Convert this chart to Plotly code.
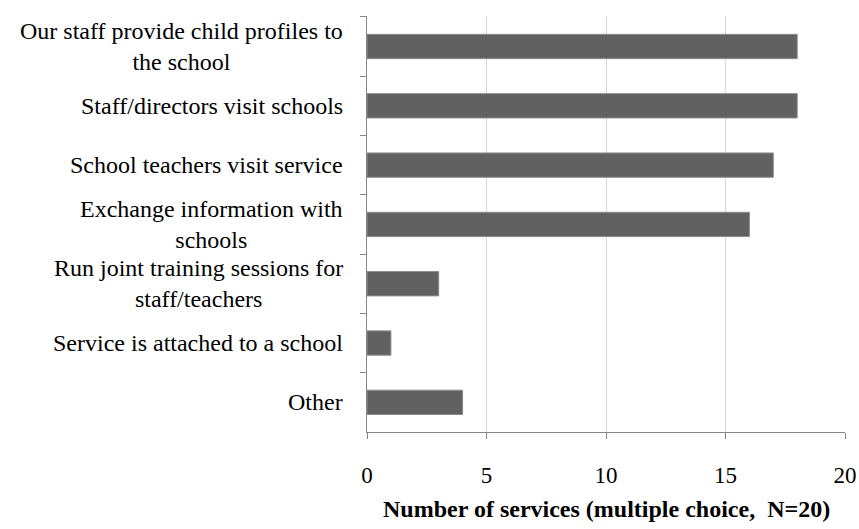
import plotly.graph_objects as go

categories = [
    "Our staff provide child profiles to<br>the school",
    "Staff/directors visit schools",
    "School teachers visit service",
    "Exchange information with<br>schools",
    "Run joint training sessions for<br>staff/teachers",
    "Service is attached to a school",
    "Other",
]
values = [18, 18, 17, 16, 3, 1, 4]
x_ticks = [0, 5, 10, 15, 20]
x_title = "Number of services (multiple choice,  N=20)"

FONT = "Liberation Serif"

fig = go.Figure(
    go.Bar(
        x=values,
        y=categories,
        orientation="h",
        width=0.41,
        marker=dict(color="#616161", line=dict(color="#8c8c8c", width=1)),
    )
)

annotations = [
    dict(
        x=0, xref="paper", y=c, yref="y", text=c,
        xanchor="right", yanchor="middle", align="center",
        xshift=-22, showarrow=False,
        font=dict(family=FONT, size=24, color="#000000"),
    )
    for c in categories
]
annotations.append(
    dict(
        x=0.5, xref="paper", y=-0.185, yref="paper", text="<b>" + x_title + "</b>",
        xanchor="center", yanchor="middle", showarrow=False,
        font=dict(family=FONT, size=24, color="#000000"),
    )
)

fig.update_layout(
    width=859, height=529,
    margin=dict(l=367, r=14, t=16, b=97),
    paper_bgcolor="white", plot_bgcolor="white",
    showlegend=False,
    font=dict(family=FONT, size=23, color="#000000"),
    annotations=annotations,
    xaxis=dict(
        range=[0, 20], tickvals=x_ticks, ticktext=[str(t) for t in x_ticks],
        showgrid=True, gridcolor="#d9d9d9", gridwidth=1,
        zeroline=False, showline=True, linecolor="#868686", linewidth=1,
        ticks="outside", ticklen=6, tickcolor="#868686",
        ticklabelstandoff=16, automargin=False,
        tickfont=dict(family=FONT, size=23, color="#000000"),
    ),
    yaxis=dict(
        type="category", categoryorder="array", categoryarray=categories,
        autorange="reversed", automargin=False,
        showticklabels=False, showgrid=False, zeroline=False,
        showline=True, linecolor="#868686", linewidth=1,
        ticks="outside", tickson="boundaries", ticklen=6, tickcolor="#868686",
    ),
)

fig.write_html("out.html")
